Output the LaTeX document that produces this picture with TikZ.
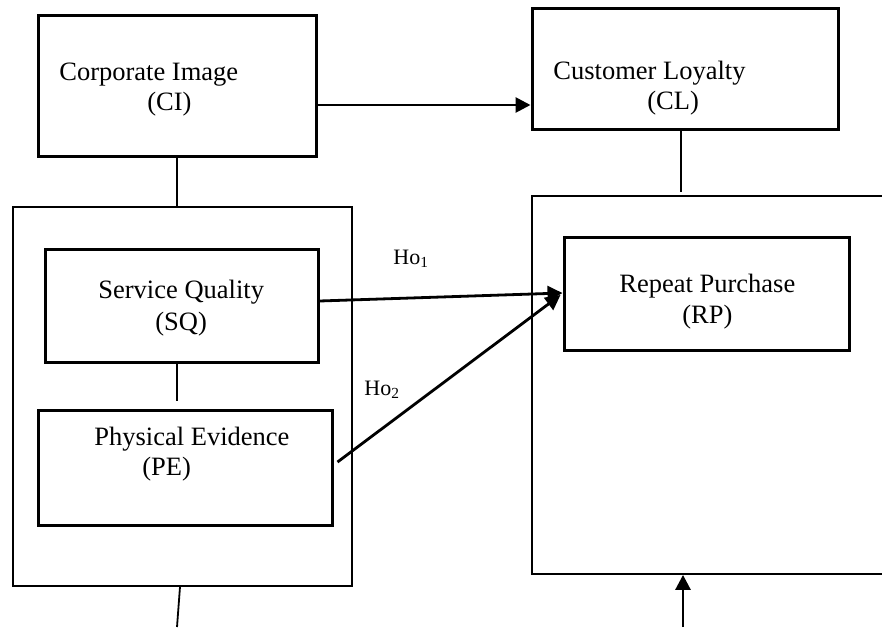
\documentclass[tikz,border=0pt]{standalone}
\usepackage{fontspec}
\setmainfont{Liberation Serif}
\usetikzlibrary{arrows.meta,calc}
\tikzset{
  thickbox/.style={draw=black, line width=1.5pt, rectangle, inner sep=0pt},
  thinbox/.style={draw=black, line width=0.9pt, rectangle, inner sep=0pt},
  lbl/.style={inner sep=0pt, anchor=base west, font=\fontsize{13.25}{16}\selectfont},
  holbl/.style={inner sep=0pt, anchor=base west, font=\fontsize{11}{13}\selectfont},
  plain/.style={draw=black, line width=0.9pt},
  arrow/.style={draw=black, line width=1.4pt, -{Triangle[length=7.5pt,width=7.5pt]}},
}
\begin{document}
\begin{tikzpicture}[x=0.5pt,y=-0.5pt]
\useasboundingbox (0,0) rectangle (882,627);
\clip (0,0) rectangle (882,627);
% boxes
\node[thickbox, minimum width=139pt, minimum height=70.5pt] (CI) at (177,85.5) {};
\node[thickbox, minimum width=153pt, minimum height=60.5pt] (CL) at (685,68.5) {};
\node[thinbox, minimum width=169.5pt, minimum height=189.5pt] (LOut) at (182.5,396.5) {};
\node[thickbox, minimum width=136.5pt, minimum height=56.5pt] (SQ) at (181.5,305.5) {};
\node[thickbox, minimum width=147pt, minimum height=57.5pt] (PE) at (185,467.5) {};
\node[thinbox, minimum width=194pt, minimum height=189pt] (ROut) at (726,385) {};
\node[thickbox, minimum width=142.5pt, minimum height=56.5pt] (RP) at (706.5,293.5) {};
% texts
\node[lbl] (tCI1) at (59,80) {Corporate Image};
\node[lbl] (tCI2) at (147,110) {(CI)};
\node[lbl] (tCL1) at (553,79) {Customer Loyalty};
\node[lbl] (tCL2) at (647,109) {(CL)};
\node[lbl] (tSQ1) at (98,298) {Service Quality};
\node[lbl] (tSQ2) at (155,330) {(SQ)};
\node[lbl] (tPE1) at (94,445) {Physical Evidence};
\node[lbl] (tPE2) at (142,475) {(PE)};
\node[lbl] (tRP1) at (619,292) {Repeat Purchase};
\node[lbl] (tRP2) at (682,323) {(RP)};
\node[holbl] (ho1) at (393,264) {Ho\textsubscript{1}};
\node[holbl] (ho2) at (364,395) {Ho\textsubscript{2}};
% free ends
\coordinate (botL) at (177,627);
\coordinate (botR) at (683,627);
% connectors
\draw[arrow] ($(CI.east)+(0,19.5)$) -- ($(CL.west)+(0,36.5)$);
\draw[plain] (CI.south) -- (CI.south |- LOut.north);
\draw[plain] (SQ.south -| CI.south) -- ($(PE.north -| CI.south)+(0,-8)$);
\draw[plain] ($(LOut.south)+(-2.5,0)$) -- (botL);
\draw[plain] ($(CL.south)+(-4,0)$) -- ($(CL.south)+(-4,61)$);
\draw[arrow] (botR) -- (botR |- ROut.south);
\draw[arrow] ($(SQ.east)+(0,-4.5)$) -- ($(RP.west)+(0,-0.5)$);
\draw[arrow] ($(PE.east)+(4,-5.5)$) -- ($(RP.west)+(-2,1.5)$);
\end{tikzpicture}
\end{document}
